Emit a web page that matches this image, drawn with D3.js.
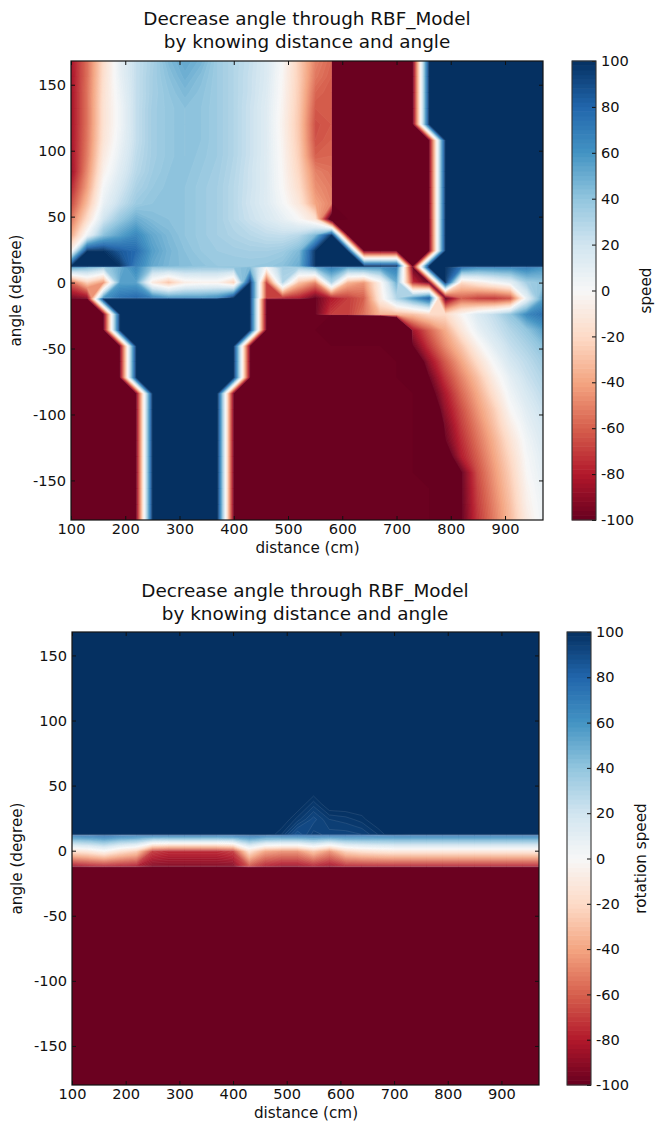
<!DOCTYPE html>
<html><head><meta charset="utf-8">
<script src="https://cdn.jsdelivr.net/npm/d3@7"></script>
<style>
html,body{margin:0;padding:0;background:#fff}
svg{display:block}
text{font-family:"DejaVu Sans",sans-serif;fill:#111}
</style></head><body>
<svg id="chart" width="655" height="1123"></svg>
<script>
const R=-100,B=100,S=-900;
// grid coordinates (doubled entries mark places where the source data jumps)
const distances=[100,130,160,190,220,250,280,310,340,370,400,430,460,490,520,550,579.5,580.5,610,640,670,700,730,760,790,820,850,880,910,940,970];
const angles=[168,156,144,132,120,108,96,84,72,60,48,36,24,12.5,11.5,0,-11.5,-12.5,-24,-36,-48,-60,-72,-84,-96,-108,-120,-132,-144,-156,-168,-180];
const xTicks=[100,200,300,400,500,600,700,800,900];
const yTicks=[-150,-100,-50,0,50,100,150];
const barTicks=[-100,-80,-60,-40,-20,0,20,40,60,80,100];
const levels=[-100,-98,-96,-94,-92,-90,-88,-86,-84,-82,-80,-78,-76,-74,-72,-70,-68,-66,-64,-62,-60,-58,-56,-54,-52,-50,-48,-46,-44,-42,-40,-38,-36,-34,-32,-30,-28,-26,-24,-22,-20,-18,-16,-14,-12,-10,-8,-6,-4,-2,0,2,4,6,8,10,12,14,16,18,20,22,24,26,28,30,32,34,36,38,40,42,44,46,48,50,52,54,56,58,60,62,64,66,68,70,72,74,76,78,80,82,84,86,88,90,92,94,96,98,100];
const paletteStops=[-100,-80,-60,-40,-20,0,20,40,60,80,100];
const paletteColors=["#67001f","#b2182b","#d6604d","#f4a582","#fddbc7","#f7f7f7","#d1e5f0","#92c5de","#4393c3","#2166ac","#053061"];

const speedRows=[
[-84,-56,-18,9,24,33,45,52,47,36,30,24,15,0,-25,-50,-58,R,R,R,R,R,R,B,B,B,B,B,B,B,B],
[-85,-56,-17,8,24,34,42,49,43,36,30,23,15,-2,-25,-53,-60,R,R,R,R,R,R,B,B,B,B,B,B,B,B],
[-85,-55,-16,6,24,34,40,45,41,36,30,23,14,-3,-26,-58,-62,R,R,R,R,R,R,B,B,B,B,B,B,B,B],
[-85,-55,-15,4,24,35,39,42,40,36,30,22,13,-4,-27,-62,-62,R,R,R,R,R,R,B,B,B,B,B,B,B,B],
[-85,-55,-15,4,24,35,39,42,40,36,30,22,13,-5,-28,-65,-62,R,R,R,R,R,R,B,B,B,B,B,B,B,B],
[-85,-54,-14,6,24,35,39,42,40,36,30,22,13,-4,-27,-64,-60,R,R,R,R,R,R,R,B,B,B,B,B,B,B],
[-86,-52,-10,9,26,35,39,42,39,36,30,22,13,-3,-25,-60,-58,R,R,R,R,R,R,R,B,B,B,B,B,B,B],
[-88,-48,-5,13,28,36,40,41,38,35,29,21,13,-2,-22,-50,-55,R,R,R,R,R,R,R,B,B,B,B,B,B,B],
[-78,-42,2,18,32,38,41,40,37,34,28,21,13,-1,-18,-46,-52,R,R,R,R,R,R,R,B,B,B,B,B,B,B],
[-68,-32,8,24,37,40,41,40,37,34,28,20,13,2,-12,-40,-50,R,R,R,R,R,R,R,B,B,B,B,B,B,B],
[-55,-18,20,38,50,44,42,40,37,34,28,22,16,9,0,-15,-120,-120,R,R,R,R,R,R,B,B,B,B,B,B,B],
[-40,5,42,55,65,52,45,40,37,34,31,28,25,24,28,45,B,B,R,R,R,R,R,R,B,B,B,B,B,B,B],
[-5,B,B,85,78,56,47,42,38,36,35,34,34,36,45,B,B,B,B,R,R,R,R,R,B,B,B,B,B,B,B],
[B,B,B,B,70,52,46,43,41,38,38,38,39,42,50,B,B,B,B,B,B,B,R,B,B,B,B,B,B,B,B],
[55,45,35,50,65,40,40,40,38,38,40,45,0,35,35,50,70,70,55,60,60,70,R,B,B,75,65,65,65,70,60],
[-60,-25,-45,55,55,-10,-30,-8,-5,-5,-25,B,-70,30,-30,-50,30,30,-35,-45,-5,50,-75,R,B,-20,-10,0,10,35,40],
[-95,-90,60,75,80,70,60,60,60,65,B,B,-70,-75,-80,R,-80,-80,-70,-60,-10,30,55,80,R,-60,-68,-70,-62,10,55],
[R,R,B,B,B,B,B,B,B,B,B,B,R,R,R,R,-80,-80,-70,-60,-10,30,55,80,R,-60,-68,-70,-62,10,55],
[R,R,R,B,B,B,B,B,B,B,B,B,R,R,R,R,-70,-70,-70,-55,-35,-35,-30,-20,-20,-2,15,25,40,65,75],
[R,R,R,B,B,B,B,B,B,B,B,B,R,R,R,R,S,S,S,S,S,-400,-85,-60,-38,-12,8,20,30,40,55],
[R,R,R,R,B,B,B,B,B,B,B,R,R,R,R,R,R,R,R,R,R,-140,-100,-72,-48,-28,-5,12,24,32,42],
[R,R,R,R,B,B,B,B,B,B,B,R,R,R,R,R,R,R,R,R,R,R,-125,-88,-62,-40,-18,2,18,26,35],
[R,R,R,R,B,B,B,B,B,B,B,R,R,R,R,R,R,R,R,R,R,R,-150,-100,-72,-50,-30,-7,10,22,30],
[R,R,R,R,R,B,B,B,B,B,R,R,R,R,R,R,R,R,R,R,R,R,R,-110,-82,-58,-38,-16,5,17,26],
[R,R,R,R,R,B,B,B,B,B,R,R,R,R,R,R,R,R,R,R,R,R,R,-125,-88,-65,-44,-25,-1,12,22],
[R,R,R,R,R,B,B,B,B,B,R,R,R,R,R,R,R,R,R,R,R,R,R,-150,-95,-70,-50,-30,-8,8,18],
[R,R,R,R,R,B,B,B,B,B,R,R,R,R,R,R,R,R,R,R,R,R,R,-200,-100,-75,-55,-36,-15,4,15],
[R,R,R,R,R,B,B,B,B,B,R,R,R,R,R,R,R,R,R,R,R,R,R,-300,-115,-80,-60,-40,-20,1,12],
[R,R,R,R,R,B,B,B,B,B,R,R,R,R,R,R,R,R,R,R,R,R,R,-400,-300,-100,-65,-44,-24,-1,10],
[R,R,R,R,R,B,B,B,B,B,R,R,R,R,R,R,R,R,R,R,R,R,R,R,-300,-100,-68,-47,-27,-4,8],
[R,R,R,R,R,B,B,B,B,B,R,R,R,R,R,R,R,R,R,R,R,R,R,R,-300,-100,-70,-50,-30,-6,6],
[R,R,R,R,R,B,B,B,B,B,R,R,R,R,R,R,R,R,R,R,R,R,R,R,-300,-100,-72,-52,-32,-9,5]
];
const highRow=[B,B,B,B,B,B,B,B,B,B,B,B,B,B,B,B,B,B,B,B,B,B,B,B,B,B,B,B,B,B,B];
const lowRow=[R,R,R,R,R,R,R,R,R,R,R,R,R,R,R,R,R,R,R,R,R,R,R,R,R,R,R,R,R,R,R];
const rotationRows=[
highRow,highRow,highRow,highRow,highRow,highRow,highRow,highRow,highRow,highRow,
[B,B,B,B,B,B,B,B,B,B,B,B,B,B,103,103,103,103,B,B,B,B,B,B,B,B,B,B,B,B,B],
[B,B,B,B,B,B,B,B,B,B,B,B,B,103,103,97,103,103,103,103,B,B,B,B,B,B,B,B,B,B,B],
[B,B,B,B,B,B,B,B,B,B,B,B,103,103,97,91,96,96,97,99,103,B,B,B,B,B,B,B,B,B,B],
[B,B,B,B,B,B,B,B,B,B,B,103,103,98,88,95,93,93,93,94,98,103,B,B,B,B,B,B,B,B,B],
[72,74,78,74,72,72,72,72,72,72,74,78,74,74,74,76,74,74,74,72,72,72,72,72,72,72,72,72,72,72,72],
[-15,-10,0,-15,-25,-70,-75,-75,-75,-75,-70,-15,-40,-45,-45,-28,-45,-45,-22,-15,-12,-10,-10,-10,-10,-10,-10,-10,-10,-10,-10],
[-85,-80,-78,-80,-82,-92,-92,-92,-92,-92,-92,-65,-80,-85,-85,-80,-85,-85,-78,-78,-78,-78,-78,-78,-78,-78,-78,-78,-78,-78,-78],
lowRow,lowRow,lowRow,lowRow,lowRow,lowRow,lowRow,lowRow,lowRow,lowRow,lowRow,lowRow,lowRow,lowRow,lowRow,lowRow
];

const svg=d3.select("#chart");
const color=d3.scaleLinear().domain(paletteStops).range(paletteColors);
const bandColor=(i)=> i>=levels.length-1 ? color(100) : color((levels[i]+levels[i+1])/2);

function drawPanel(p,idx){
  const W=p.right-p.left,H=p.bottom-p.top;
  const x=d3.scaleLinear().domain([100,970]).range([p.left,p.right]);
  const y=d3.scaleLinear().domain([-180,168]).range([p.bottom,p.top]);
  const nx=distances.length,ny=angles.length;
  const ix=d3.scaleLinear().domain(distances.map((d,i)=>i)).range(distances).clamp(true);
  const iy=d3.scaleLinear().domain(angles.map((d,i)=>i)).range(angles).clamp(true);
  const path=d3.geoPath(d3.geoTransform({point(a,b){this.stream.point(x(ix(a-.5)),y(iy(b-.5)));}}));
  const flat=p.rows.flat();
  const bands=d3.contours().size([nx,ny]).smooth(true).thresholds(levels)(flat);
  const g=svg.append("g");
  const cid="clip"+idx;
  svg.append("clipPath").attr("id",cid).append("rect").attr("x",p.left).attr("y",p.top).attr("width",W).attr("height",H);
  const field=g.append("g").attr("clip-path",`url(#${cid})`);
  field.append("rect").attr("x",p.left).attr("y",p.top).attr("width",W).attr("height",H).attr("fill",color(-100));
  field.selectAll("path").data(bands).join("path").attr("d",path)
    .attr("fill",(d,i)=>bandColor(i))
    .attr("stroke","#fff").attr("stroke-opacity",(d,i)=>i===0?0:p.lineOpacity).attr("stroke-width",.6);
  const tick=(sel)=>sel.call(s=>s.select(".domain").remove()).call(s=>s.selectAll("line").attr("stroke","#111").attr("stroke-width",1));
  const fmt=d=>String(d);
  const label=s=>s.selectAll("text").attr("font-size",14.6).attr("font-family","DejaVu Sans").attr("fill","#111");
  g.append("g").attr("transform",`translate(0,${p.bottom})`)
    .call(d3.axisBottom(x).tickValues(xTicks).tickSize(-4).tickPadding(4).tickFormat(fmt)).call(tick).call(label);
  g.append("g").attr("transform",`translate(0,${p.top})`)
    .call(d3.axisTop(x).tickValues(xTicks).tickSize(-4).tickFormat("")).call(tick);
  g.append("g").attr("transform",`translate(${p.left},0)`)
    .call(d3.axisLeft(y).tickValues(yTicks).tickSize(-4).tickPadding(5).tickFormat(fmt)).call(tick).call(label);
  g.append("g").attr("transform",`translate(${p.right},0)`)
    .call(d3.axisRight(y).tickValues(yTicks).tickSize(-4).tickFormat("")).call(tick);
  g.append("rect").attr("x",p.left).attr("y",p.top).attr("width",W).attr("height",H)
    .attr("fill","none").attr("stroke","#111").attr("stroke-width",1.2);
  p.title.forEach((t,i)=>g.append("text").attr("x",p.titleX).attr("y",p.titleY+i*23).attr("text-anchor","middle").attr("font-size",18.4).text(t));
  g.append("text").attr("x",(p.left+p.right)/2+.5).attr("y",p.xLabelY).attr("text-anchor","middle").attr("font-size",15.2).text("distance (cm)");
  g.append("text").attr("transform",`translate(${p.yLabelX},${(p.top+p.bottom)/2}) rotate(-90)`).attr("text-anchor","middle").attr("font-size",15.2).text("angle (degree)");
  const cb=d3.scaleLinear().domain([-100,100]).range([p.bottom,p.top]);
  const barLevels=levels.slice(0,-1);
  g.append("g").selectAll("rect").data(barLevels).join("rect")
    .attr("x",p.barLeft).attr("width",p.barRight-p.barLeft)
    .attr("y",(d,i)=>cb(levels[i+1])-.3).attr("height",(d,i)=>cb(levels[i])-cb(levels[i+1])+.6)
    .attr("fill",(d,i)=>bandColor(i));
  g.append("g").attr("transform",`translate(${p.barRight},0)`)
    .call(d3.axisRight(cb).tickValues(barTicks).tickSize(-4).tickPadding(5).tickFormat(fmt)).call(tick).call(label);
  g.append("rect").attr("x",p.barLeft).attr("y",p.top).attr("width",p.barRight-p.barLeft).attr("height",H)
    .attr("fill","none").attr("stroke","#333").attr("stroke-width",1.1);
  g.append("text").attr("transform",`translate(${p.barLabelX},${(p.top+p.bottom)/2}) rotate(-90)`).attr("text-anchor","middle").attr("font-size",15.2).text(p.barLabel);
}

const panels=[
 {rows:speedRows,lineOpacity:.07,left:71,right:543,top:61,bottom:520,barLeft:572,barRight:596,title:["Decrease angle through RBF_Model","by knowing distance and angle"],titleX:307,titleY:25,xLabelY:553,yLabelX:21,barLabel:"speed",barLabelX:651},
 {rows:rotationRows,lineOpacity:.16,left:72,right:539,top:632,bottom:1085,barLeft:567,barRight:591,title:["Decrease angle through RBF_Model","by knowing distance and angle"],titleX:305,titleY:597,xLabelY:1118,yLabelX:22,barLabel:"rotation speed",barLabelX:646}
];
panels.forEach(drawPanel);
</script>
</body></html>
